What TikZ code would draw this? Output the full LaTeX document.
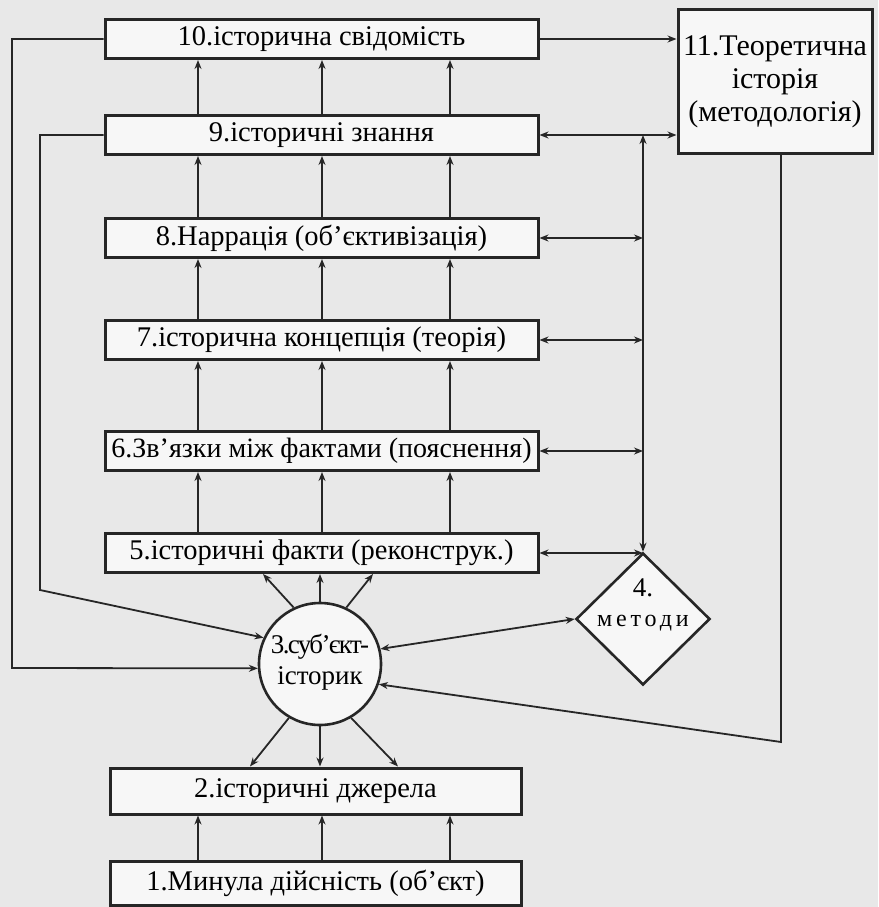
\documentclass[tikz,border=0pt]{standalone}
\usepackage{fontspec}
\setmainfont{Liberation Serif}
\usetikzlibrary{arrows.meta,shapes.geometric}
\begin{document}
\begin{tikzpicture}[x=1pt,y=-1pt,
  line/.style={draw=black!85, line width=1.8pt},
  arr/.style={line, -{Stealth[length=9pt,width=7pt]}},
  arrtwo/.style={line, {Stealth[length=9pt,width=7pt]}-{Stealth[length=9pt,width=7pt]}},
  box/.style={draw=black!85, line width=3pt, fill=black!3, minimum width=433, minimum height=39, inner sep=0pt, font=\fontsize{28.5}{30}\selectfont},
  roundbox/.style={circle, draw=black!85, line width=2.6pt, fill=black!3, minimum size=122, inner sep=0pt},
  methodbox/.style={diamond, draw=black!85, line width=2.6pt, fill=black!3, minimum width=134, minimum height=132, inner sep=0pt},
]
\fill[black!9] (0,0) rectangle (878,907);
\useasboundingbox (0,0) rectangle (878,907);

% helper coordinates
\coordinate (v1) at (198,0);
\coordinate (v2) at (322,0);
\coordinate (v3) at (450,0);
\coordinate (m) at (643,0);
\coordinate (L1) at (12,668);
\coordinate (L2) at (40,590);
\coordinate (R) at (781,742);
\coordinate (t1) at (263,0);
\coordinate (t3) at (373,0);
\coordinate (u1) at (250,0);
\coordinate (u3) at (398,0);

% nodes
\node[box] (b10) at (321.5,39) {10.історична свідомість};
\node[box] (b9) at (321.5,135) {9.історичні знання};
\node[box] (b8) at (321.5,238) {8.Наррація (об’єктивізація)};
\node[box] (b7) at (321.5,340) {7.історична концепція (теорія)};
\node[box, font=\fontsize{28}{30}\selectfont] (b6) at (321.5,451) {6.Зв’язки між фактами (пояснення)};
\node[box] (b5) at (321.5,553) {5.історичні факти (реконструк.)};
\node[box, minimum width=411, minimum height=46] (b2) at (315.5,791) {2.історичні джерела};
\node[box, minimum width=411, minimum height=44] (b1) at (315.5,883) {1.Минула дійсність (об’єкт)};
\node[box, minimum width=194, minimum height=143, align=center, font=\fontsize{30}{33}\selectfont] (b11) at (775,81.5) {11.Теоретична\\історія\\(методологія)};
\node[roundbox] (c) at (320,664) {};
\node[align=center, font=\fontsize{27}{31}\selectfont, inner sep=0pt] (ct) at (320,662) {{\addfontfeature{LetterSpace=-6}3.суб’єкт-}\\історик};
\node[methodbox] (d) at (643,619) {};
\node[align=center, font=\fontsize{24}{30}\selectfont, inner sep=0pt] (dt) at (643,605) {{\fontsize{27}{30}\selectfont 4.}\\{\addfontfeature{LetterSpace=16}методи}};

% vertical links between the stacked boxes
\foreach \lo/\up in {b9/b10,b8/b9,b7/b8,b6/b7,b5/b6,b1/b2}{
  \foreach \v in {v1,v2,v3}{
    \draw[arr] (\lo.north -| \v) -- (\up.south -| \v);
  }
}

% links to box 11
\draw[arr] (b10.east) -- (b10.east -| b11.west);
\draw[arrtwo] (b9.east) -- (b9.east -| b11.west);

% methods line
\draw[arrtwo] (d.north) -- (b9.east -| m);
\foreach \b in {b8,b7,b6,b5}{
  \draw[arrtwo] (\b.east) -- (\b.east -| m);
}

% left feedback loops
\draw[arr] (b10.west) -| (L1) -- (c.184);
\draw[arr] (b9.west) -| (L2) -- (c.155);

% circle to methods and theory
\draw[arrtwo] (c.14) -- (d.west);
\draw[arr] (b11.south -| R) -- (R) -- (c.341);

% circle to facts
\draw[arr] (c.115) -- (b5.south -| t1);
\draw[arr] (c.north) -- (b5.south -| c);
\draw[arr] (c.65) -- (b5.south -| t3);

% circle to sources
\draw[arr] (c.240) -- (b2.north -| u1);
\draw[arr] (c.south) -- (b2.north -| c);
\draw[arr] (c.300) -- (b2.north -| u3);
\end{tikzpicture}
\end{document}
